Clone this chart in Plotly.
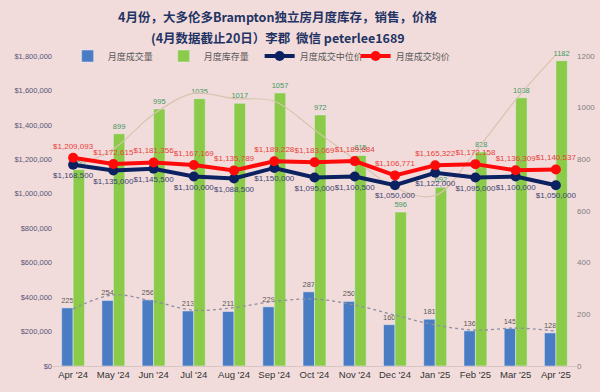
import plotly.graph_objects as go

months = ["Apr '24", "May '24", "Jun '24", "Jul '24", "Aug '24", "Sep '24", "Oct '24",
          "Nov '24", "Dec '24", "Jan '25", "Feb '25", "Mar '25", "Apr '25"]
sales = [225, 254, 256, 213, 211, 229, 287, 250, 160, 181, 136, 145, 128]
inventory = [760, 899, 995, 1035, 1017, 1057, 972, 815, 596, 692, 828, 1038, 1182]
median_price = [1168500, 1135000, 1145500, 1100000, 1088500, 1150000, 1095000,
                1100500, 1050000, 1122000, 1095000, 1100000, 1050000]
mean_price = [1209093, 1172615, 1181356, 1167169, 1135789, 1189228, 1183069,
              1189684, 1106771, 1165322, 1172158, 1136309, 1140537]
# trendlines
sales_trend = [221, 275, 250, 216, 226, 250, 259, 236, 197, 159, 139, 147, 135]
inventory_trend = [770, 840, 975, 1055, 1035, 1025, 914, 800, 690, 660, 830, 1030, 1205]

left_ticks = [0, 200000, 400000, 600000, 800000, 1000000, 1200000, 1400000, 1600000, 1800000]
left_labels = ["$0", "$200,000", "$400,000", "$600,000", "$800,000", "$1,000,000",
               "$1,200,000", "$1,400,000", "$1,600,000", "$1,800,000"]
right_ticks = [0, 200, 400, 600, 800, 1000, 1200]

title_line1 = "4月份，大多伦多Brampton独立房月度库存，销售，价格"
title_line2 = "(4月数据截止20日）李郡  微信 peterlee1689"

BG = "#F2DCDB"
CJK = "Noto Sans CJK SC"
NUM = "Liberation Sans, sans-serif"

fig = go.Figure()

fig.add_trace(go.Bar(
    x=months, y=sales, name="月度成交量", yaxis="y", offsetgroup="a",
    marker=dict(color="#4A7CC4"), text=sales, textposition="outside",
    constraintext="none",
    textfont=dict(color="#595959", size=7.5, family=NUM),
    cliponaxis=False))
fig.add_trace(go.Bar(
    x=months, y=inventory, name="月度库存量", yaxis="y", offsetgroup="b",
    marker=dict(color="#8CCB4A"), text=inventory, textposition="outside",
    constraintext="none",
    textfont=dict(color="#3E9A62", size=7.5, family=NUM),
    cliponaxis=False))

fig.add_trace(go.Scatter(
    x=months, y=sales_trend, yaxis="y", mode="lines", showlegend=False,
    line=dict(color="#8E8EA0", width=1.3, dash="dot", shape="spline"),
    hoverinfo="skip"))
fig.add_trace(go.Scatter(
    x=months, y=inventory_trend, yaxis="y", mode="lines", showlegend=False,
    line=dict(color="#D8C4AE", width=1.2, shape="spline"),
    hoverinfo="skip"))

fig.add_trace(go.Scatter(
    x=months, y=median_price, name="月度成交中位价", yaxis="y2",
    mode="lines+markers+text", line=dict(color="#0B2160", width=4),
    marker=dict(size=10, color="#0B2160"),
    text=[f"${v:,}" for v in median_price], textposition="bottom center",
    textfont=dict(color="#3B4470", size=8, family=NUM),
    cliponaxis=False))
fig.add_trace(go.Scatter(
    x=months, y=mean_price, name="月度成交均价", yaxis="y2",
    mode="lines+markers+text", line=dict(color="#FF0A0A", width=4),
    marker=dict(size=10, color="#FF0A0A"),
    text=[f"${v:,}" for v in mean_price], textposition="top center",
    textfont=dict(color="#E8403A", size=8, family=NUM),
    cliponaxis=False))

fig.update_layout(
    width=600, height=392,
    paper_bgcolor=BG, plot_bgcolor=BG,
    margin=dict(l=53, r=24, t=56, b=26, autoexpand=False),
    barmode="group", bargap=0.43, bargroupgap=0,
    annotations=[
        dict(text=f"<b>{title_line1}</b>", xref="paper", yref="paper",
             x=0.43, y=1.129, xanchor="center", yanchor="middle", showarrow=False,
             font=dict(family=CJK, size=12.5, color="#1F3464")),
        dict(text=f"<b>{title_line2}</b>", xref="paper", yref="paper",
             x=0.43, y=1.061, xanchor="center", yanchor="middle", showarrow=False,
             font=dict(family=CJK, size=12.5, color="#1F3464")),
    ],
    legend=dict(orientation="h", x=0.028, xanchor="left", y=1.0, yanchor="middle",
                font=dict(family=CJK, size=9, color="#595959"),
                bgcolor="rgba(0,0,0,0)", entrywidth=51, traceorder="normal"),
    xaxis=dict(type="category", range=[-0.5, 12.5], showgrid=False,
               showline=True, linecolor="#D9C5C4", ticks="",
               tickfont=dict(family=NUM, size=9.5, color="#333333")),
    yaxis=dict(side="right", range=[0, 1200], tickvals=right_ticks,
               showgrid=False, zeroline=False,
               tickfont=dict(family=NUM, size=8, color="#7F7F7F")),
    yaxis2=dict(side="left", overlaying="y", range=[0, 1800000],
                tickvals=left_ticks, ticktext=left_labels, showgrid=False,
                zeroline=False,
                tickfont=dict(family=NUM, size=7.5, color="#555577")),
)

fig.write_html(
    "out.html",
    config={"displayModeBar": False},
    post_script="document.body.style.margin='0';document.body.style.background='#F2DCDB';",
)
